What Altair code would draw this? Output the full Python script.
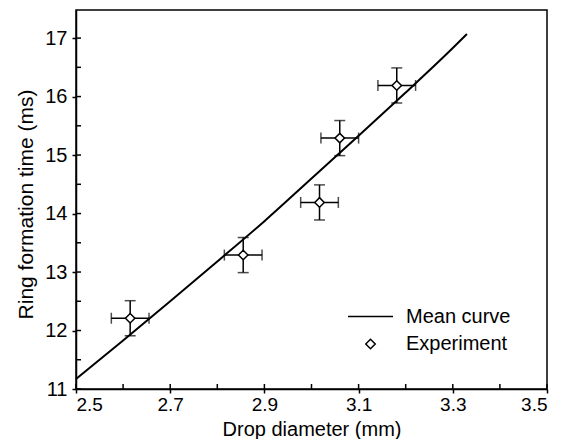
import altair as alt
import pandas as pd

# Mean curve
curve_x = [2.5, 2.6, 2.7, 2.8, 2.9, 3.0, 3.1, 3.2, 3.3, 3.33]
curve_y = [11.17, 11.83, 12.5, 13.18, 13.87, 14.6, 15.33, 16.07, 16.83, 17.07]

# Experiment points with error bars
exp_x = [2.615, 2.855, 3.017, 3.06, 3.181]
exp_y = [12.21, 13.29, 14.19, 15.29, 16.19]
exp_xerr = [0.04, 0.04, 0.04, 0.04, 0.04]
exp_yerr = [0.3, 0.3, 0.3, 0.3, 0.3]

x_labels = [2.5, 2.7, 2.9, 3.1, 3.3, 3.5]
x_minor = [2.5, 2.6, 2.7, 2.8, 2.9, 3.0, 3.1, 3.2, 3.3, 3.4, 3.5]
y_labels = [11, 12, 13, 14, 15, 16, 17]
y_minor = [11, 11.5, 12, 12.5, 13, 13.5, 14, 14.5, 15, 15.5, 16, 16.5, 17]

series = ["Mean curve", "Experiment"]

FONT = "Liberation Sans"
xdom = [2.5, 3.5]
ydom = [11, 17.48]

curve = pd.DataFrame({"x": curve_x, "y": curve_y})
exp = pd.DataFrame({"x": exp_x, "y": exp_y, "xerr": exp_xerr, "yerr": exp_yerr})
exp["xlo"] = exp["x"] - exp["xerr"]
exp["xhi"] = exp["x"] + exp["xerr"]
exp["ylo"] = exp["y"] - exp["yerr"]
exp["yhi"] = exp["y"] + exp["yerr"]
exp["series"] = "Experiment"

xs = alt.Scale(domain=xdom, nice=False, zero=False)
ys = alt.Scale(domain=ydom, nice=False, zero=False)
xax = alt.Axis(values=x_labels, format=".1f", title="Drop diameter (mm)",
               tickSize=4, labelPadding=2, labelFontSize=19,
               titleY=46, titleBaseline="alphabetic", titleFontSize=20)
yax = alt.Axis(values=y_labels, format="d", title="Ring formation time (ms)",
               tickSize=4, labelPadding=5, labelFontSize=20, titleX=-44, titleY=194,
               titleBaseline="alphabetic", titleAngle=270, titleFontSize=21)


def X(f):
    return alt.X(f, scale=xs, axis=xax)


def Y(f):
    return alt.Y(f, scale=ys, axis=yax)


line = alt.Chart(curve).mark_line(color="black", strokeWidth=2, interpolate="monotone").encode(
    x=X("x:Q"), y=Y("y:Q"))

yerr = alt.Chart(exp).mark_rule(color="black", strokeWidth=1.5).encode(
    x=X("x:Q"), y=Y("ylo:Q"), y2="yhi:Q")
xerr = alt.Chart(exp).mark_rule(color="black", strokeWidth=1.5).encode(
    y=Y("y:Q"), x=X("xlo:Q"), x2="xhi:Q")
ycap_lo = alt.Chart(exp).mark_tick(color="black", thickness=1.5, size=11, orient="horizontal").encode(
    x=X("x:Q"), y=Y("ylo:Q"))
ycap_hi = alt.Chart(exp).mark_tick(color="black", thickness=1.5, size=11, orient="horizontal").encode(
    x=X("x:Q"), y=Y("yhi:Q"))
xcap_lo = alt.Chart(exp).mark_tick(color="black", thickness=1.5, size=11, orient="vertical").encode(
    x=X("xlo:Q"), y=Y("y:Q"))
xcap_hi = alt.Chart(exp).mark_tick(color="black", thickness=1.5, size=11, orient="vertical").encode(
    x=X("xhi:Q"), y=Y("y:Q"))

points = alt.Chart(exp).mark_point(filled=True, fill="white", stroke="black", strokeWidth=1.5, opacity=1).encode(
    x=X("x:Q"),
    y=Y("y:Q"),
    shape=alt.Shape("series:N", scale=alt.Scale(domain=series, range=["stroke", "diamond"]),
                    legend=alt.Legend(title=None, orient="none", legendX=271, legendY=283,
                                      labelFont=FONT, labelFontSize=20, labelColor="black",
                                      labelOffset=12, rowPadding=7,
                                      symbolStrokeColor="black", symbolFillColor="white",
                                      symbolStrokeWidth=1.5, symbolOpacity=1)),
    size=alt.Size("series:N", scale=alt.Scale(domain=series, range=[2025, 90]),
                  legend=alt.Legend(title=None, orient="none", legendX=271, legendY=283)),
)

ytick_df = pd.DataFrame({"v": y_minor})
xtick_df = pd.DataFrame({"v": x_minor})
yin = alt.Chart(ytick_df).mark_rule(color="black", strokeWidth=1.5).encode(
    y=Y("v:Q"), x=alt.value(0), x2=alt.value(5))
xin = alt.Chart(xtick_df).mark_rule(color="black", strokeWidth=1.5).encode(
    x=X("v:Q"), y=alt.value(379), y2=alt.value(374))

chart = alt.layer(line, yerr, xerr, ycap_lo, ycap_hi, xcap_lo, xcap_hi, points, yin, xin).properties(
    width=471, height=379,
    autosize=alt.AutoSizeParams(type="none"),
    padding={"left": 68, "top": 2, "right": 9, "bottom": 50},
    background="white",
).configure_view(stroke="black", strokeWidth=1.5).configure_axis(
    grid=False, domainColor="black", domainWidth=1.5, tickColor="black", tickWidth=1.5,
    labelFont=FONT, labelColor="black",
    titleFont=FONT, titleColor="black", titleFontWeight="normal",
)

chart.save("out.html", embed_options={"renderer": "svg", "actions": False})
